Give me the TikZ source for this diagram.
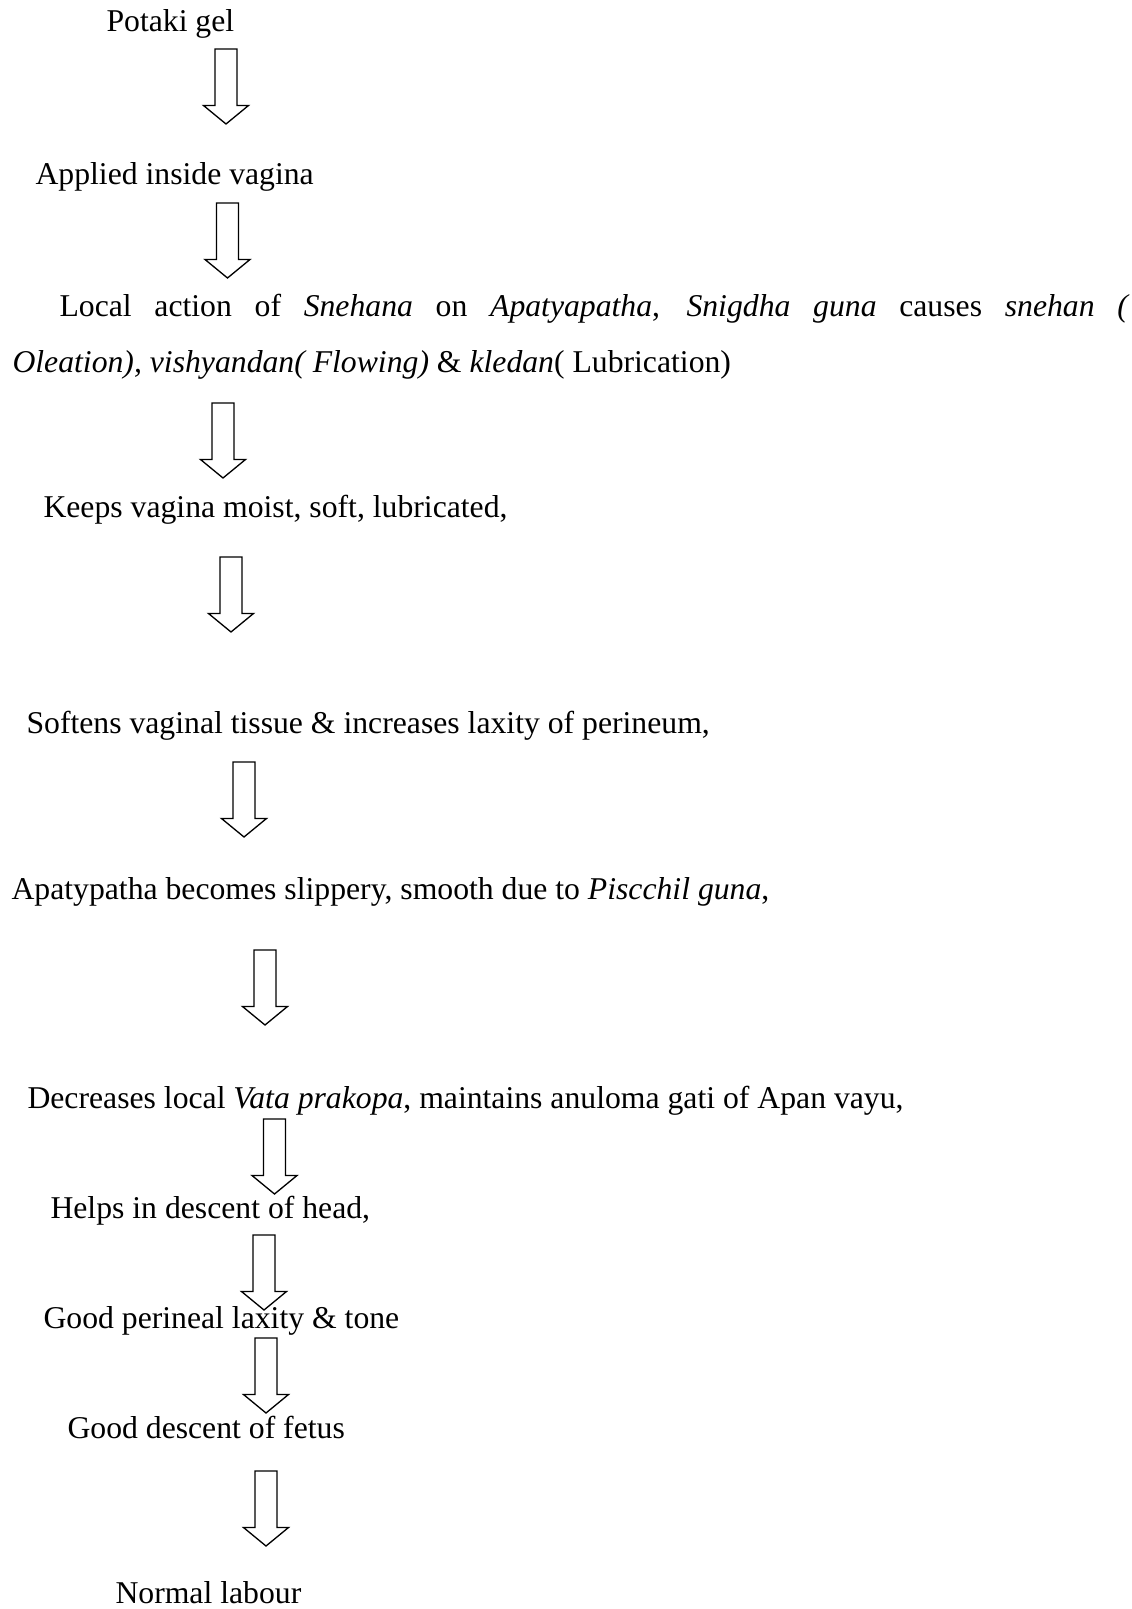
\documentclass[tikz,border=0pt]{standalone}
\usepackage{fontspec}
\setmainfont{Liberation Serif}
\begin{document}
\begin{tikzpicture}[x=0.3785pt,y=-0.3785pt,
  font=\fontsize{12pt}{14pt}\selectfont,
  t/.style={anchor=base west,inner sep=0pt},
  dn/.pic={\draw[line width=0.5pt,line join=miter] (-11,0) -- (11,0) -- (11,56.5) -- (22.5,56.5) -- (0,75) -- (-22.5,56.5) -- (-11,56.5) -- cycle;}]

\useasboundingbox (0,0) rectangle (1132,1609);

\node[t] (gel)   at (106,32)   {Potaki gel};
\node[t] (appl)  at (35,185)   {Applied inside vagina};
\node[t] (loc1)  at (59,316)   {\makebox[405pt][s]{Local action of \textit{Snehana} on \textit{Apatyapatha}, \textit{Snigdha guna} causes \textit{snehan (}}};
\node[t] (loc2)  at (12,372)   {\textit{Oleation), vishyandan( Flowing)} \& \textit{kledan}( Lubrication)};
\node[t] (keep)  at (43,517)   {Keeps vagina moist, soft, lubricated,};
\node[t] (soft)  at (26,733)   {Softens vaginal tissue \& increases laxity of perineum,};
\node[t] (slip)  at (11,899)   {Apatypatha becomes slippery, smooth due to \textit{Piscchil guna},};
\node[t] (vata)  at (27,1108)  {Decreases local \textit{Vata prakopa}, maintains anuloma gati of Apan vayu,};
\node[t] (head)  at (50,1218)  {Helps in descent of head,};
\node[t] (peri)  at (43,1328)  {Good perineal laxity \& tone};
\node[t] (fetus) at (67,1438)  {Good descent of fetus};
\node[t] (lab)   at (115,1603) {Normal labour};

% hollow block arrows between the steps
\pic (a1)  at (226,49)    {dn};
\pic (a2)  at (227.5,203) {dn};
\pic (a3)  at (223,403)   {dn};
\pic (a4)  at (231,557)   {dn};
\pic (a5)  at (244,762)   {dn};
\pic (a6)  at (265,950)   {dn};
\pic (a7)  at (274.5,1119){dn};
\pic (a8)  at (264,1235)  {dn};
\pic (a9)  at (266,1338)  {dn};
\pic (a10) at (266,1471)  {dn};
\end{tikzpicture}
\end{document}
